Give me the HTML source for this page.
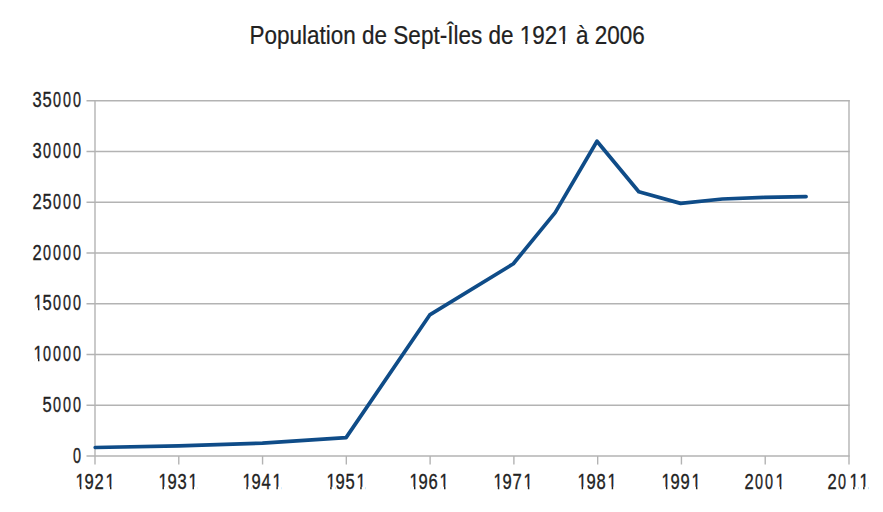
<!DOCTYPE html>
<html><head><meta charset="utf-8"><style>
html,body{margin:0;padding:0;background:#fff;}
body{width:883px;height:512px;position:relative;overflow:hidden;font-family:"Liberation Sans",sans-serif;color:#222;}
svg{position:absolute;left:0;top:0;}
.t{position:absolute;top:22px;font-size:22.5px;line-height:26px;white-space:nowrap;transform:translateY(0.5px) scaleY(1.16);transform-origin:0 12.5px;-webkit-text-stroke:0.2px #222;}
.yl{position:absolute;right:800.5px;font-size:18px;line-height:20px;text-align:right;transform:scaleY(1.188);transform-origin:100% 16px;}
.xl{position:absolute;top:473px;width:80px;text-align:center;font-size:18px;line-height:20px;transform:scaleY(1.188);transform-origin:50% 16px;}
.g,.g0,.g1{display:inline-block;transform:scaleX(0.92);-webkit-text-stroke:0.3px #222;}
.g0{transform:scaleX(0.8);}
.g1{transform:translateX(1px) scaleX(0.92);}
</style></head><body>
<svg width="883" height="512" viewBox="0 0 883 512">
<g stroke="#b3b3b3" stroke-width="1.4" fill="none"><line x1="86.5" y1="100.70" x2="849.7" y2="100.70"/><line x1="86.5" y1="151.46" x2="849.7" y2="151.46"/><line x1="86.5" y1="202.22" x2="849.7" y2="202.22"/><line x1="86.5" y1="252.98" x2="849.7" y2="252.98"/><line x1="86.5" y1="303.74" x2="849.7" y2="303.74"/><line x1="86.5" y1="354.50" x2="849.7" y2="354.50"/><line x1="86.5" y1="405.26" x2="849.7" y2="405.26"/><line x1="86.5" y1="456.02" x2="849.7" y2="456.02"/><line x1="95.0" y1="100" x2="95.0" y2="464.5"/><line x1="849.0" y1="100" x2="849.0" y2="464.5"/><line x1="178.78" y1="456" x2="178.78" y2="464.5"/><line x1="262.56" y1="456" x2="262.56" y2="464.5"/><line x1="346.33" y1="456" x2="346.33" y2="464.5"/><line x1="430.11" y1="456" x2="430.11" y2="464.5"/><line x1="513.89" y1="456" x2="513.89" y2="464.5"/><line x1="597.67" y1="456" x2="597.67" y2="464.5"/><line x1="681.44" y1="456" x2="681.44" y2="464.5"/><line x1="765.22" y1="456" x2="765.22" y2="464.5"/></g>
<polyline points="95.20,447.50 178.83,445.80 262.46,443.11 346.09,437.60 429.72,314.92 513.35,263.75 555.16,212.58 596.98,141.20 638.80,191.79 680.61,203.40 722.42,199.01 764.24,197.40 806.06,196.60" fill="none" stroke="#0f4c88" stroke-width="3.7" stroke-linejoin="round" stroke-linecap="round"/>
</svg>
<div class="t" style="left:249.5px">Population de Sept-Îles de 1921 à 2006</div>
<div class="yl" style="top:91px"><span class="g">3</span><span class="g">5</span><span class="g0">0</span><span class="g0">0</span><span class="g0">0</span></div>
<div class="yl" style="top:142px"><span class="g">3</span><span class="g0">0</span><span class="g0">0</span><span class="g0">0</span><span class="g0">0</span></div>
<div class="yl" style="top:193px"><span class="g">2</span><span class="g">5</span><span class="g0">0</span><span class="g0">0</span><span class="g0">0</span></div>
<div class="yl" style="top:244px"><span class="g">2</span><span class="g0">0</span><span class="g0">0</span><span class="g0">0</span><span class="g0">0</span></div>
<div class="yl" style="top:294px"><span class="g1">1</span><span class="g">5</span><span class="g0">0</span><span class="g0">0</span><span class="g0">0</span></div>
<div class="yl" style="top:345px"><span class="g1">1</span><span class="g0">0</span><span class="g0">0</span><span class="g0">0</span><span class="g0">0</span></div>
<div class="yl" style="top:396px"><span class="g">5</span><span class="g0">0</span><span class="g0">0</span><span class="g0">0</span></div>
<div class="yl" style="top:447px"><span class="g0">0</span></div>
<div class="xl" style="left:54.40px"><span class="g1">1</span><span class="g">9</span><span class="g">2</span><span class="g1">1</span></div>
<div class="xl" style="left:136.93px"><span class="g1">1</span><span class="g">9</span><span class="g">3</span><span class="g1">1</span></div>
<div class="xl" style="left:220.81px"><span class="g1">1</span><span class="g">9</span><span class="g">4</span><span class="g1">1</span></div>
<div class="xl" style="left:304.63px"><span class="g1">1</span><span class="g">9</span><span class="g">5</span><span class="g1">1</span></div>
<div class="xl" style="left:388.46px"><span class="g1">1</span><span class="g">9</span><span class="g">6</span><span class="g1">1</span></div>
<div class="xl" style="left:472.29px"><span class="g1">1</span><span class="g">9</span><span class="g">7</span><span class="g1">1</span></div>
<div class="xl" style="left:556.12px"><span class="g1">1</span><span class="g">9</span><span class="g">8</span><span class="g1">1</span></div>
<div class="xl" style="left:640.39px"><span class="g1">1</span><span class="g">9</span><span class="g">9</span><span class="g1">1</span></div>
<div class="xl" style="left:724.37px"><span class="g">2</span><span class="g0">0</span><span class="g0">0</span><span class="g1">1</span></div>
<div class="xl" style="left:807.50px"><span class="g">2</span><span class="g0">0</span><span class="g1">1</span><span class="g1">1</span></div>
<svg width="883" height="512" viewBox="0 0 883 512" style="position:absolute;left:0;top:0"><g fill="#fff"><rect x="520.39" y="41.16" width="4.95" height="3.84"/><rect x="527.33" y="41.16" width="4.77" height="3.84"/><rect x="557.94" y="41.16" width="4.95" height="3.84"/><rect x="564.88" y="41.16" width="4.77" height="3.84"/><rect x="34.08" y="307.76" width="3.90" height="3.49"/><rect x="39.45" y="307.76" width="3.77" height="3.49"/><rect x="34.08" y="358.76" width="3.90" height="3.49"/><rect x="39.45" y="358.76" width="3.77" height="3.49"/><rect x="76.02" y="486.76" width="3.90" height="3.49"/><rect x="81.39" y="486.76" width="3.77" height="3.49"/><rect x="106.07" y="486.76" width="3.90" height="3.49"/><rect x="111.44" y="486.76" width="3.77" height="3.49"/><rect x="158.55" y="486.76" width="3.90" height="3.49"/><rect x="163.92" y="486.76" width="3.77" height="3.49"/><rect x="188.60" y="486.76" width="3.90" height="3.49"/><rect x="193.97" y="486.76" width="3.77" height="3.49"/><rect x="242.43" y="486.76" width="3.90" height="3.49"/><rect x="247.80" y="486.76" width="3.77" height="3.49"/><rect x="272.48" y="486.76" width="3.90" height="3.49"/><rect x="277.84" y="486.76" width="3.77" height="3.49"/><rect x="326.26" y="486.76" width="3.90" height="3.49"/><rect x="331.62" y="486.76" width="3.77" height="3.49"/><rect x="356.30" y="486.76" width="3.90" height="3.49"/><rect x="361.67" y="486.76" width="3.77" height="3.49"/><rect x="410.08" y="486.76" width="3.90" height="3.49"/><rect x="415.45" y="486.76" width="3.77" height="3.49"/><rect x="440.13" y="486.76" width="3.90" height="3.49"/><rect x="445.50" y="486.76" width="3.77" height="3.49"/><rect x="493.91" y="486.76" width="3.90" height="3.49"/><rect x="499.28" y="486.76" width="3.77" height="3.49"/><rect x="523.96" y="486.76" width="3.90" height="3.49"/><rect x="529.33" y="486.76" width="3.77" height="3.49"/><rect x="577.74" y="486.76" width="3.90" height="3.49"/><rect x="583.11" y="486.76" width="3.77" height="3.49"/><rect x="607.79" y="486.76" width="3.90" height="3.49"/><rect x="613.16" y="486.76" width="3.77" height="3.49"/><rect x="662.01" y="486.76" width="3.90" height="3.49"/><rect x="667.37" y="486.76" width="3.77" height="3.49"/><rect x="692.05" y="486.76" width="3.90" height="3.49"/><rect x="697.42" y="486.76" width="3.77" height="3.49"/><rect x="776.04" y="486.76" width="3.90" height="3.49"/><rect x="781.41" y="486.76" width="3.77" height="3.49"/><rect x="849.16" y="486.76" width="3.90" height="3.49"/><rect x="854.53" y="486.76" width="3.77" height="3.49"/><rect x="859.18" y="486.76" width="3.90" height="3.49"/><rect x="864.55" y="486.76" width="3.77" height="3.49"/></g></svg>
</body></html>
